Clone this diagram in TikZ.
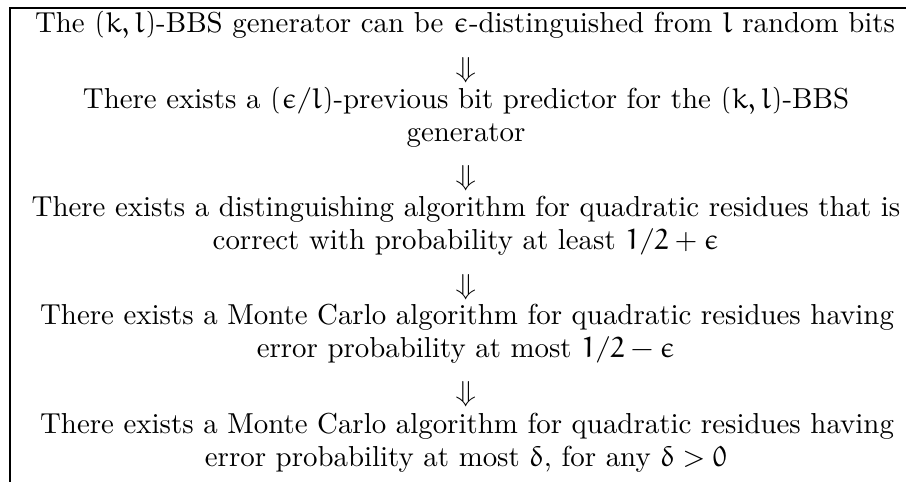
\documentclass[tikz,border=0pt]{standalone}
\IfFileExists{euler.sty}{\usepackage{euler}}{%
  \DeclareSymbolFont{letters}{U}{eur}{m}{n}%
  \DeclareMathSymbol{0}{\mathalpha}{letters}{"30}%
  \DeclareMathSymbol{1}{\mathalpha}{letters}{"31}%
  \DeclareMathSymbol{2}{\mathalpha}{letters}{"32}%
}
\begin{document}
\begin{tikzpicture}[x=0.3463pt,y=-0.3463pt,
  txt/.style={anchor=base,inner sep=0pt,outer sep=0pt},
  implies/.style={anchor=center,inner sep=0pt,outer sep=0pt},
  frame/.style={line width=0.45pt}]
\useasboundingbox (0,0) rectangle (906,482);
% frame (open at right and bottom, as cropped)
\coordinate (tl) at (10,8);
\coordinate (tr) at (906,8);
\coordinate (bl) at (10,482);
\draw[frame] (tr) -- (tl) -- (bl);
% statements
\node[txt] (s1) at (465,33) {The $(k,l)$-BBS generator can be $\epsilon$-distinguished from $l$ random bits};
\node[implies] (a1) at (466,70) {$\Downarrow$};
\node[txt] (s2a) at (466,108.25) {There exists a $(\epsilon/l)$-previous bit predictor for the $(k,l)$-BBS};
\node[txt] (s2b) at (466,141.25) {generator};
\node[implies] (a2) at (466,178) {$\Downarrow$};
\node[txt] (s3a) at (466,216.5) {There exists a distinguishing algorithm for quadratic residues that is};
\node[txt] (s3b) at (466,249.5) {correct with probability at least $1/2+\epsilon$};
\node[implies] (a3) at (466,287) {$\Downarrow$};
\node[txt] (s4a) at (467,324.75) {There exists a Monte Carlo algorithm for quadratic residues having};
\node[txt] (s4b) at (466,357.75) {error probability at most $1/2-\epsilon$};
\node[implies] (a4) at (466,394) {$\Downarrow$};
\node[txt] (s5a) at (467,433) {There exists a Monte Carlo algorithm for quadratic residues having};
\node[txt] (s5b) at (466,466) {error probability at most $\delta$, for any $\delta>0$};
\end{tikzpicture}
\end{document}
